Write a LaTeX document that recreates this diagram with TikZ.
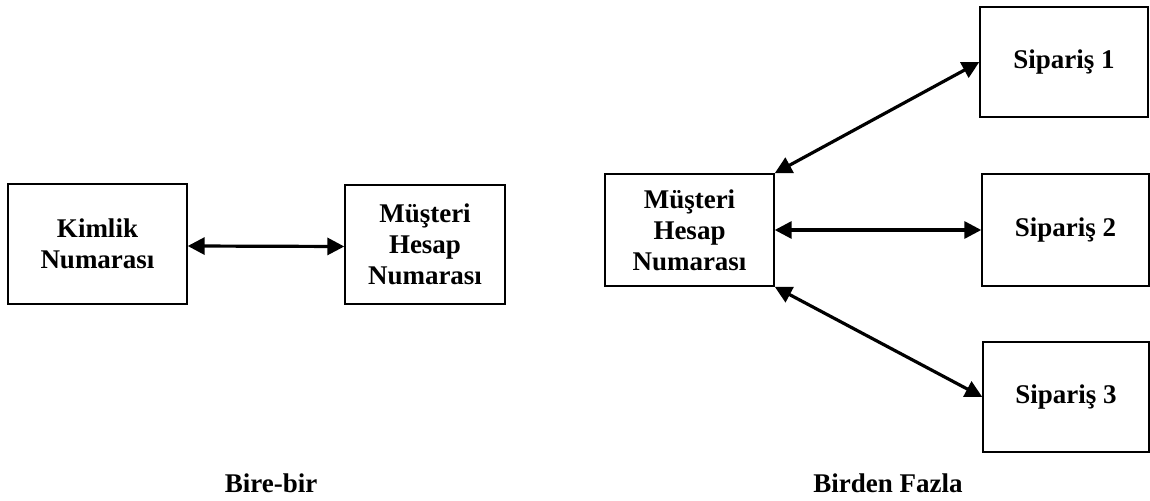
\documentclass[tikz,border=0pt]{standalone}
\usepackage{fontspec}
\setmainfont{Liberation Serif}
\usetikzlibrary{arrows.meta}
\begin{document}
\begin{tikzpicture}[x=0.5pt,y=-0.5pt,
  box/.style={draw, line width=0.7pt, inner sep=0pt, align=center,
    font=\bfseries\fontsize{13.5}{15.5}\selectfont},
  link/.style={line width=1.6pt,
    {Triangle[length=8.5pt,width=8.5pt]}-{Triangle[length=8.5pt,width=8.5pt]}},
  caption/.style={font=\bfseries\fontsize{13.5}{15.5}\selectfont}]
\useasboundingbox (0,0) rectangle (1150,501);

% one-to-one
\node[box, minimum width=89.5pt, minimum height=60pt] (kim) at (97.5,244) {Kimlik\\Numarası};
\node[box, minimum width=80pt, minimum height=59.5pt] (mha) at (425,244.5) {Müşteri\\Hesap\\Numarası};
\draw[link] ([yshift=-1pt]kim.east) -- ([yshift=-1pt]mha.west);
\node[caption] (c1) at (271,483) {Bire-bir};

% one-to-many
\node[box, minimum width=84.5pt, minimum height=56pt] (mhb) at (689.5,230) {Müşteri\\Hesap\\Numarası};
\node[box, minimum width=84pt, minimum height=55pt] (s1) at (1064,62) {Sipariş 1};
\node[box, minimum width=83.5pt, minimum height=56pt] (s2) at (1065.5,230) {Sipariş 2};
\node[box, minimum width=83pt, minimum height=55pt] (s3) at (1066,397) {Sipariş 3};
\draw[link] (mhb.north east) -- (s1.west);
\draw[link] (mhb.east) -- (s2.west);
\draw[link] (mhb.south east) -- (s3.west);
\node[caption] (c2) at (888,483) {Birden Fazla};
\end{tikzpicture}
\end{document}
